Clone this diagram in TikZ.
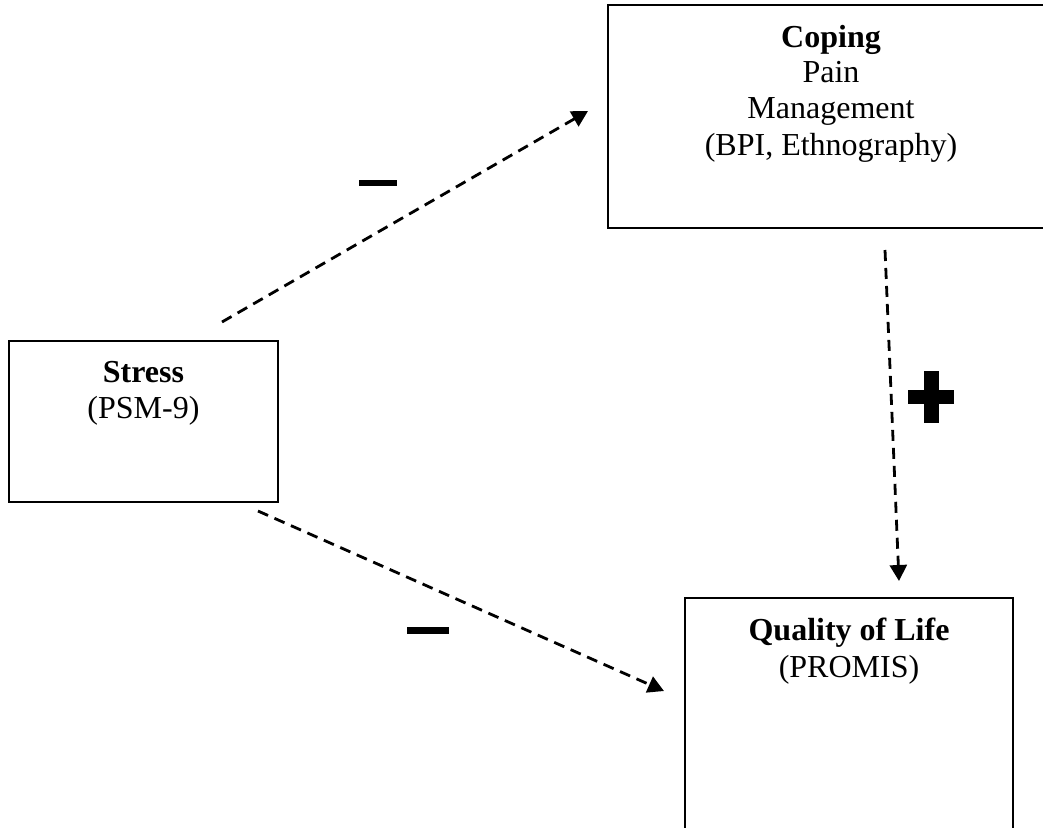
\documentclass[tikz,border=0pt]{standalone}
\usepackage{fontspec}
\setmainfont{Liberation Serif}
\usetikzlibrary{arrows.meta}
\begin{document}
\begin{tikzpicture}[x=1pt,y=-1pt,
  box/.style={draw,line width=2pt,inner sep=0pt},
  lbl/.style={font=\fontsize{32}{36}\selectfont,anchor=base,inner sep=0pt},
  link/.style={dash pattern=on 11pt off 7pt, line width=2.8pt, -{Triangle[length=16pt,width=17pt]}},
  sign/.style={fill=black,draw=none,inner sep=0pt,outer sep=0pt}]
\useasboundingbox (0,0) rectangle (1043,827);
\clip (0,0) rectangle (1043,827);
% boxes
\node[box,minimum width=446pt,minimum height=223pt] (coping) at (831,116.5) {};
\node[box,minimum width=269pt,minimum height=161pt] (stress) at (143.5,421.5) {};
\node[box,minimum width=328pt,minimum height=302pt] (qol) at (849,749) {};
% texts
\node[lbl] (cop1) at (831,47) {\textbf{Coping}};
\node[lbl] (cop2) at (831,82) {Pain};
\node[lbl] (cop3) at (831,118) {Management};
\node[lbl] (cop4) at (831,155) {(BPI, Ethnography)};
\node[lbl] (str1) at (143.5,382) {\textbf{Stress}};
\node[lbl] (str2) at (143.5,418) {(PSM-9)};
\node[lbl] (qol1) at (849,640) {\textbf{Quality of Life}};
\node[lbl] (qol2) at (849,677) {(PROMIS)};
% connector ends
\coordinate (a1s) at (222,322);
\coordinate (a1e) at (588,111);
\coordinate (a2s) at (885,250);
\coordinate (a2e) at (899,581);
\coordinate (a3s) at (258,511);
\coordinate (a3e) at (664,691);
\draw[link] (a1s) -- (a1e);
\draw[link] (a2s) -- (a2e);
\draw[link] (a3s) -- (a3e);
% signs
\node[sign,minimum width=38pt,minimum height=6pt] (minus1) at (378,183) {};
\node[sign,minimum width=42pt,minimum height=7pt] (minus2) at (428,630.5) {};
\node[sign,minimum width=15pt,minimum height=52pt] (plusv) at (931.5,397) {};
\node[sign,minimum width=46pt,minimum height=14pt] (plush) at (931,397) {};
\end{tikzpicture}
\end{document}
